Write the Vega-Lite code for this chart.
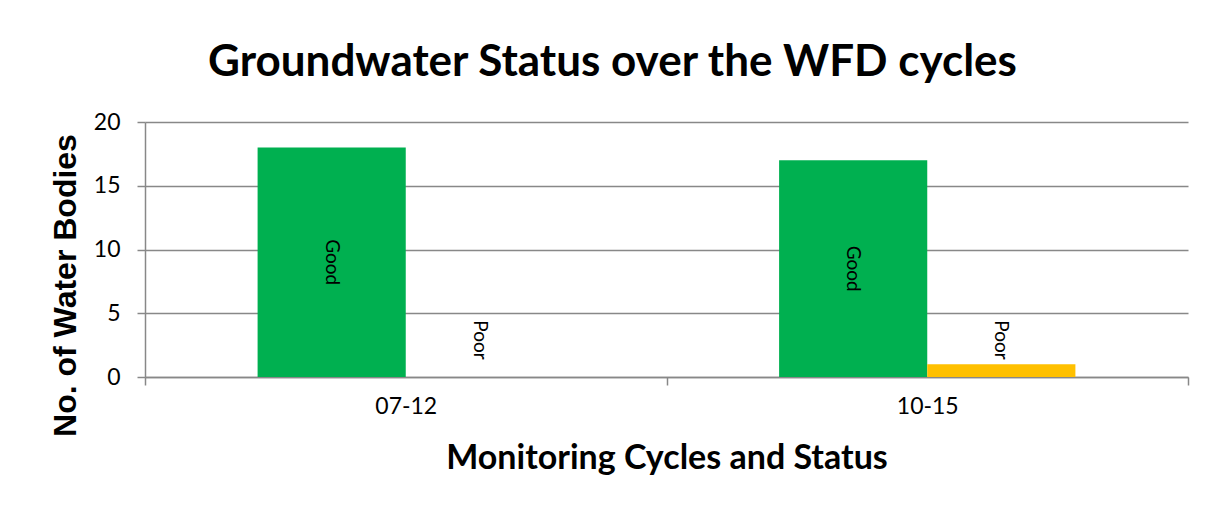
{
  "$schema": "https://vega.github.io/schema/vega-lite/v6.json",
  "width": 1043,
  "height": 255,
  "autosize": {"type": "none"},
  "padding": {"left": 145, "top": 122, "right": 24, "bottom": 130},
  "background": "white",
  "title": {
    "text": "Groundwater Status over the WFD cycles",
    "font": "Lato",
    "fontSize": 44,
    "fontWeight": "bold",
    "color": "#000000",
    "anchor": "middle",
    "dx": -54,
    "offset": 26
  },
  "data": {
    "values": [
      {"cycle": "07-12", "status": "Good", "value": 18},
      {"cycle": "07-12", "status": "Poor", "value": 0},
      {"cycle": "10-15", "status": "Good", "value": 17},
      {"cycle": "10-15", "status": "Poor", "value": 1}
    ]
  },
  "encoding": {
    "x": {
      "field": "cycle",
      "type": "nominal",
      "scale": {"paddingInner": 0, "paddingOuter": 0},
      "axis": {
        "title": "Monitoring Cycles and Status",
        "titleFont": "Lato",
        "titleFontSize": 34,
        "titleFontWeight": "bold",
        "titleColor": "#000000",
        "titleY": 81,
        "titleBaseline": "middle",
        "labelFont": "Lato",
        "labelFontSize": 23,
        "labelColor": "#000000",
        "labelAngle": 0,
        "labelPadding": 10,
        "tickBand": "extent",
        "tickSize": 8,
        "tickColor": "#888888",
        "tickWidth": 1.5,
        "domainColor": "#888888",
        "domainWidth": 1.5,
        "grid": false
      }
    },
    "xOffset": {
      "field": "status",
      "type": "nominal",
      "scale": {"paddingInner": 0, "paddingOuter": 0.76}
    }
  },
  "layer": [
    {
      "mark": {"type": "bar"},
      "encoding": {
        "y": {
          "field": "value",
          "type": "quantitative",
          "scale": {"domain": [0, 20]},
          "axis": {
            "title": "No. of Water Bodies",
            "titleFont": "Liberation Sans",
            "titleFontSize": 32,
            "titleFontWeight": "bold",
            "titleColor": "#000000",
            "titleX": -80,
            "titleY": 163,
            "titleAlign": "center",
            "titleBaseline": "middle",
            "values": [0, 5, 10, 15, 20],
            "labelFont": "Lato",
            "labelFontSize": 23,
            "labelColor": "#000000",
            "labelPadding": 17,
            "tickSize": 8,
            "tickColor": "#888888",
            "tickWidth": 1.5,
            "domainColor": "#888888",
            "domainWidth": 1.5,
            "grid": true,
            "gridColor": "#888888",
            "gridWidth": 1.5
          }
        },
        "color": {
          "field": "status",
          "type": "nominal",
          "scale": {"domain": ["Good", "Poor"], "range": ["#00B050", "#FFC000"]},
          "legend": null
        }
      }
    },
    {
      "transform": [
        {"calculate": "max(datum.value / 2, 2.9)", "as": "labelPos"}
      ],
      "mark": {
        "type": "text",
        "angle": 90,
        "font": "Lato",
        "fontSize": 19,
        "color": "#000000",
        "align": "center",
        "baseline": "middle"
      },
      "encoding": {
        "y": {"field": "labelPos", "type": "quantitative"},
        "text": {"field": "status"}
      }
    }
  ],
  "config": {
    "view": {"stroke": null}
  }
}
